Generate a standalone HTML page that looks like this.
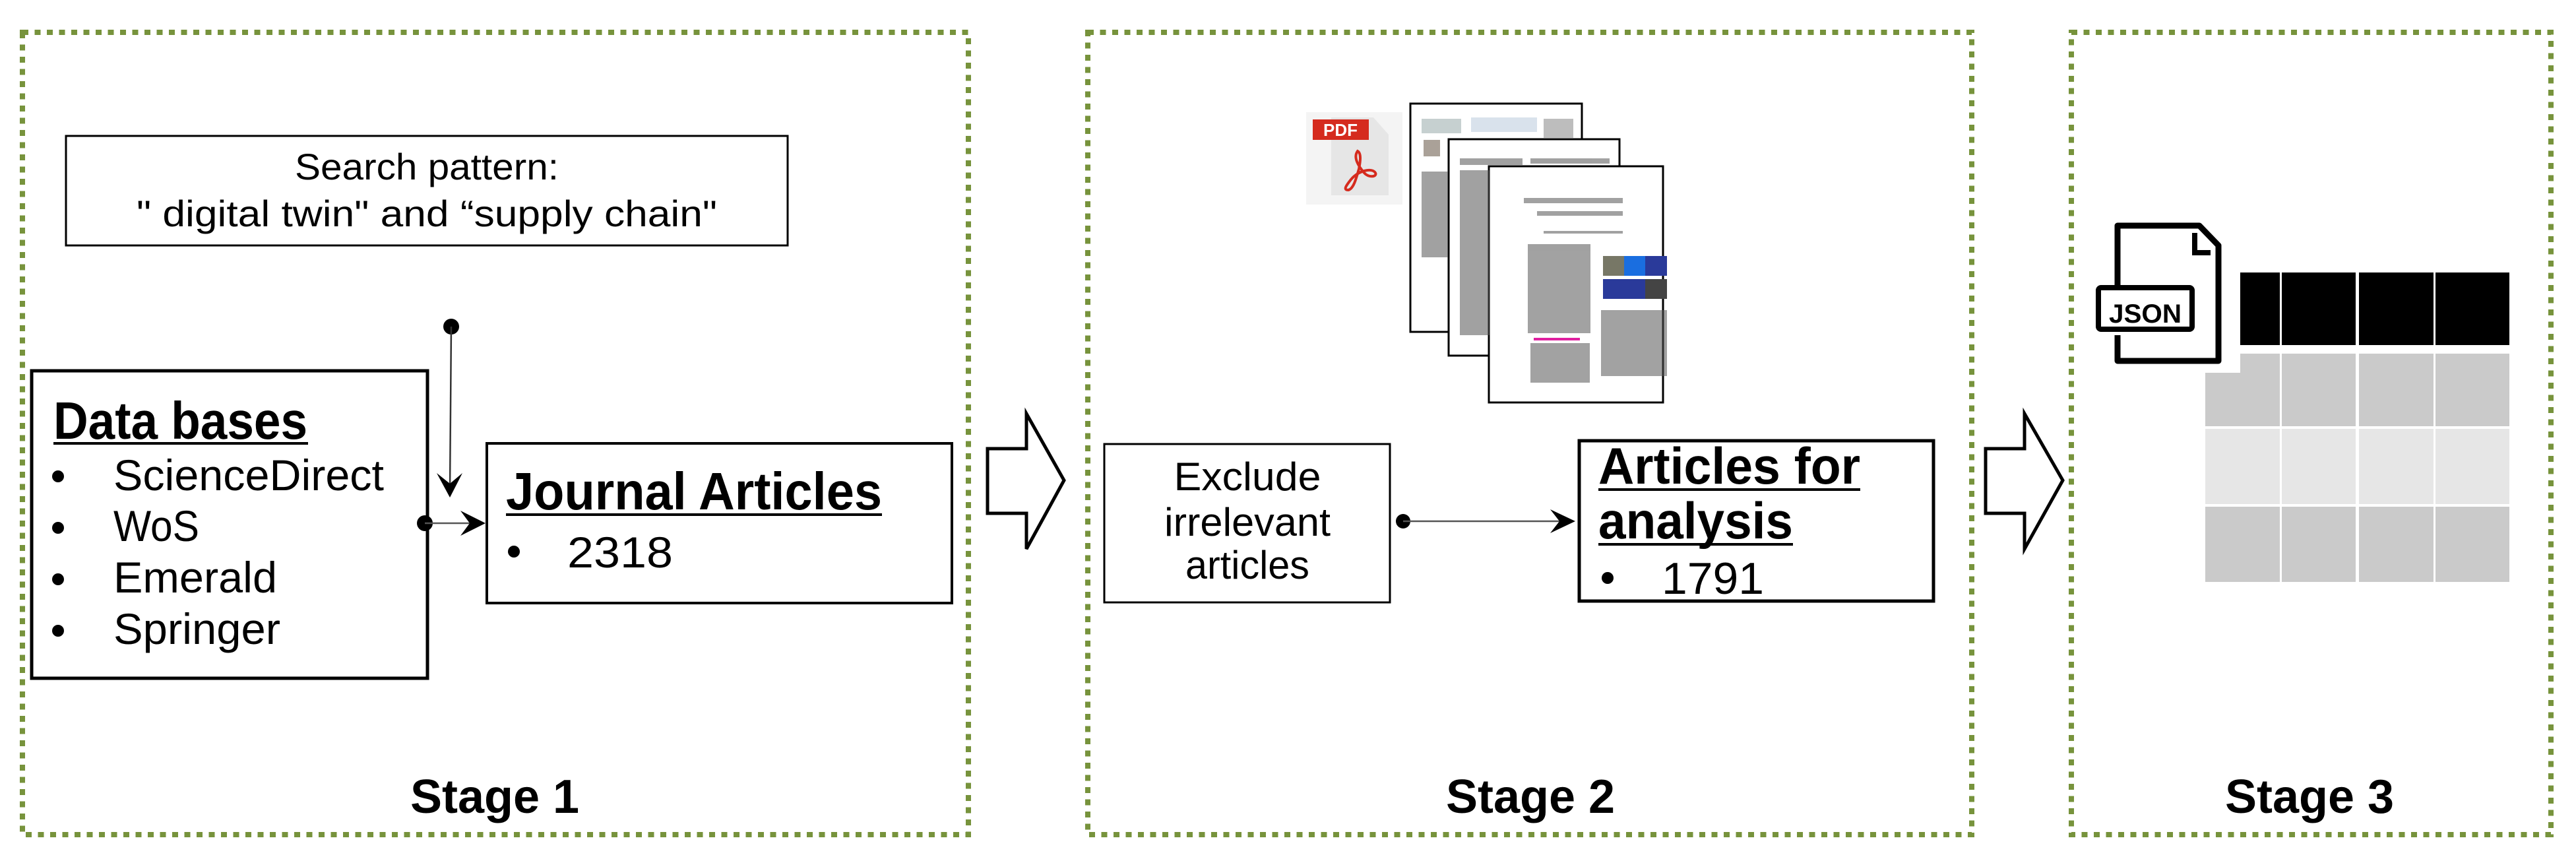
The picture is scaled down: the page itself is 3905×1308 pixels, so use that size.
<!DOCTYPE html>
<html><head><meta charset="utf-8"><style>
html,body{margin:0;padding:0;background:#fff;}
svg{display:block;}
.t{font-family:"Liberation Sans",sans-serif;fill:#000;}
</style></head><body>
<svg width="3905" height="1308" viewBox="0 0 3905 1308" xmlns="http://www.w3.org/2000/svg">
<rect width="3905" height="1308" fill="#fff"/>
<g fill="none" stroke="#77933c" stroke-width="8" stroke-dasharray="9 9.5">
<rect x="34" y="49" width="1434" height="1216"/>
<rect x="1649" y="49" width="1340" height="1216"/>
<rect x="3140" y="49" width="727" height="1216"/>
</g>
<path d="M1497,680 H1556 V627 L1613,728 L1556,832 V778 H1497 Z" fill="#fff" stroke="#000" stroke-width="5" stroke-linejoin="miter"/>
<path d="M3010,680 H3069 V627 L3127,728 L3069,832 V778 H3010 Z" fill="#fff" stroke="#000" stroke-width="5" stroke-linejoin="miter"/>

<rect x="100" y="206" width="1094" height="166" fill="#fff" stroke="#000" stroke-width="3"/>
<text class="t" x="647" y="272" font-size="56" text-anchor="middle" textLength="400" lengthAdjust="spacingAndGlyphs">Search pattern:</text>
<text class="t" x="647" y="343" font-size="56" text-anchor="middle" textLength="880" lengthAdjust="spacingAndGlyphs">" digital twin" and “supply chain"</text>

<rect x="48" y="562" width="600" height="466" fill="#fff" stroke="#000" stroke-width="5"/>
<text class="t" x="81" y="665" font-size="80" font-weight="bold" textLength="385" lengthAdjust="spacingAndGlyphs">Data bases</text>
<rect x="81" y="670" width="386" height="4" fill="#000"/>
<circle cx="88" cy="722" r="9"/><text class="t" x="172" y="743" font-size="66" textLength="410" lengthAdjust="spacingAndGlyphs">ScienceDirect</text>
<circle cx="88" cy="800" r="9"/><text class="t" x="172" y="820" font-size="66" textLength="130" lengthAdjust="spacingAndGlyphs">WoS</text>
<circle cx="88" cy="878" r="9"/><text class="t" x="172" y="898" font-size="66" textLength="248" lengthAdjust="spacingAndGlyphs">Emerald</text>
<circle cx="88" cy="956" r="9"/><text class="t" x="172" y="976" font-size="66" textLength="253" lengthAdjust="spacingAndGlyphs">Springer</text>

<circle cx="684" cy="495" r="12" fill="#000"/>
<line x1="684" y1="495" x2="682" y2="745" stroke="#333" stroke-width="2.5"/>
<path d="M662,717 L682,754 L701,717 L682,733 Z" fill="#000"/>
<circle cx="644" cy="793" r="12" fill="#000"/>
<line x1="644" y1="793" x2="725" y2="793" stroke="#555" stroke-width="2.5"/>
<path d="M698,774 L736,793 L698,812 L712,793 Z" fill="#000"/>

<rect x="738" y="672" width="705" height="242" fill="#fff" stroke="#000" stroke-width="4"/>
<text class="t" x="767" y="772" font-size="80" font-weight="bold" textLength="570" lengthAdjust="spacingAndGlyphs">Journal Articles</text>
<rect x="767" y="778" width="570" height="4" fill="#000"/>
<circle cx="779" cy="836" r="9" fill="#000"/>
<text class="t" x="860" y="860" font-size="66" textLength="160" lengthAdjust="spacingAndGlyphs">2318</text>

<text class="t" x="750" y="1232" font-size="72" font-weight="bold" text-anchor="middle">Stage 1</text>

<rect x="1980" y="170" width="146" height="140" fill="#f4f4f4"/>
<path d="M2018,178 H2082 L2105,204 V296 H2018 Z" fill="#e6e6e6"/>
<rect x="1990" y="181" width="85" height="31" fill="#d52b1e"/>
<text x="2032" y="206" font-family="Liberation Sans,sans-serif" font-weight="bold" font-size="26" fill="#fff" text-anchor="middle">PDF</text>
<path d="M2058,229 C2050,240 2062,255 2068,262 C2075,270 2088,268 2085,262 C2080,254 2060,258 2048,272 C2040,282 2036,288 2044,288 C2052,286 2056,270 2060,256 C2062,246 2064,232 2058,229 Z" fill="none" stroke="#d52b1e" stroke-width="4"/>
<g stroke="#000" stroke-width="3" fill="#fff">
<rect x="2138" y="157" width="260" height="346"/>
<rect x="2196" y="211" width="259" height="328"/>
<rect x="2257" y="252" width="264" height="358"/>
</g>
<g fill="#555" opacity="0.55">
<rect x="2155" y="180" width="60" height="22" fill="#9aa"/>
<rect x="2230" y="178" width="100" height="22" fill="#bcd"/>
<rect x="2340" y="180" width="45" height="30" fill="#888"/>
<rect x="2158" y="212" width="25" height="25" fill="#654"/>
<rect x="2155" y="260" width="40" height="130" />
<rect x="2213" y="240" width="95" height="10"/>
<rect x="2320" y="240" width="120" height="8"/>
<rect x="2213" y="258" width="45" height="250"/>
<rect x="2310" y="300" width="150" height="8"/>
<rect x="2330" y="320" width="130" height="7"/>
<rect x="2340" y="350" width="120" height="4"/>
<rect x="2316" y="370" width="95" height="135"/>
<rect x="2427" y="470" width="100" height="100"/>
<rect x="2320" y="520" width="90" height="60"/>
</g>
<rect x="2430" y="388" width="32" height="30" fill="#776"/>
<rect x="2462" y="388" width="32" height="30" fill="#1a6ee0"/>
<rect x="2494" y="388" width="33" height="30" fill="#2a3a9a"/>
<rect x="2430" y="423" width="32" height="30" fill="#2a3a9a"/>
<rect x="2462" y="423" width="32" height="30" fill="#2a3a9a"/>
<rect x="2494" y="423" width="33" height="30" fill="#444"/>
<rect x="2325" y="512" width="70" height="4" fill="#e020a0"/>

<rect x="1674" y="673" width="433" height="240" fill="#fff" stroke="#000" stroke-width="3"/>
<text class="t" x="1891" y="743" font-size="60" text-anchor="middle" textLength="223" lengthAdjust="spacingAndGlyphs">Exclude</text>
<text class="t" x="1891" y="812" font-size="60" text-anchor="middle" textLength="252" lengthAdjust="spacingAndGlyphs">irrelevant</text>
<text class="t" x="1891" y="877" font-size="60" text-anchor="middle" textLength="188" lengthAdjust="spacingAndGlyphs">articles</text>
<circle cx="2127" cy="790" r="11" fill="#000"/>
<line x1="2127" y1="790" x2="2378" y2="790" stroke="#555" stroke-width="2.5"/>
<path d="M2350,772 L2388,790 L2350,808 L2364,790 Z" fill="#000"/>

<rect x="2394" y="668" width="537" height="243" fill="#fff" stroke="#000" stroke-width="5"/>
<text class="t" x="2423" y="733" font-size="78" font-weight="bold" textLength="397" lengthAdjust="spacingAndGlyphs">Articles for</text>
<rect x="2423" y="740" width="397" height="4" fill="#000"/>
<text class="t" x="2423" y="816" font-size="78" font-weight="bold" textLength="295" lengthAdjust="spacingAndGlyphs">analysis</text>
<rect x="2423" y="823" width="295" height="4" fill="#000"/>
<circle cx="2437" cy="876" r="9" fill="#000"/>
<text class="t" x="2519" y="900" font-size="68" textLength="155" lengthAdjust="spacingAndGlyphs">1791</text>

<text class="t" x="2320" y="1232" font-size="72" font-weight="bold" text-anchor="middle">Stage 2</text>

<rect x="3396" y="413" width="60" height="110" fill="#000"/>
<rect x="3459" y="413" width="112" height="110" fill="#000"/>
<rect x="3576" y="413" width="113" height="110" fill="#000"/>
<rect x="3692" y="413" width="112" height="110" fill="#000"/>
<path d="M3396,536 H3456 V646 H3343 V565 H3396 Z" fill="#cacaca"/>
<rect x="3459" y="536" width="112" height="110" fill="#cacaca"/>
<rect x="3576" y="536" width="113" height="110" fill="#cacaca"/>
<rect x="3692" y="536" width="112" height="110" fill="#cacaca"/>
<rect x="3343" y="650" width="113" height="114" fill="#e6e6e6"/>
<rect x="3459" y="650" width="112" height="114" fill="#e6e6e6"/>
<rect x="3576" y="650" width="113" height="114" fill="#e6e6e6"/>
<rect x="3692" y="650" width="112" height="114" fill="#e6e6e6"/>
<rect x="3343" y="768" width="113" height="114" fill="#cacaca"/>
<rect x="3459" y="768" width="112" height="114" fill="#cacaca"/>
<rect x="3576" y="768" width="113" height="114" fill="#cacaca"/>
<rect x="3692" y="768" width="112" height="114" fill="#cacaca"/>
<path d="M3210,440 V342 H3334 L3363,372 V547 H3210 V508" fill="none" stroke="#000" stroke-width="9" stroke-linejoin="round"/>
<path d="M3327,353 V383 H3351" fill="none" stroke="#000" stroke-width="8"/>
<rect x="3181" y="436" width="142" height="63" rx="4" fill="#fff" stroke="#000" stroke-width="8"/>
<text x="3252" y="489" font-family="Liberation Sans,sans-serif" font-weight="bold" font-size="40" text-anchor="middle" textLength="110" lengthAdjust="spacingAndGlyphs">JSON</text>

<text class="t" x="3501" y="1232" font-size="72" font-weight="bold" text-anchor="middle">Stage 3</text>
</svg>
</body></html>
